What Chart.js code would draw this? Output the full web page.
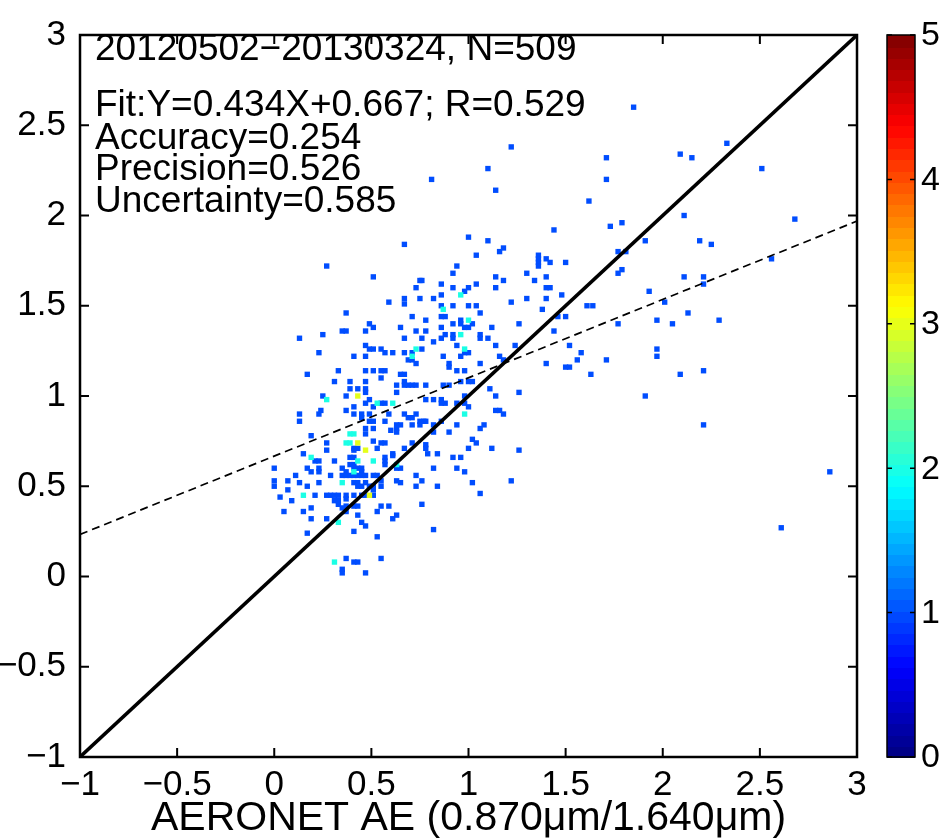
<!DOCTYPE html>
<html><head><meta charset="utf-8">
<script src="https://cdn.jsdelivr.net/npm/chart.js@4.4.1/dist/chart.umd.min.js"></script>
<style>html,body{margin:0;padding:0;background:#fff;}#wrap{width:945px;height:838px;position:relative;}</style>
</head><body><div id="wrap"><canvas id="c" width="945" height="838"></canvas></div>
<script>
// ---- data: [AERONET AE, satellite AE] per occupied bin, grouped by bin count ----
const count1Points = [
[0.27,1.72],[0.51,1.66],[0.59,1.52],[0.67,1.54],[0.67,1.51],[0.75,1.64],[0.73,1.60],[0.75,1.54],[0.37,1.46],[0.71,1.44],[0.49,1.40],[0.51,1.38],[0.65,1.38],[0.35,1.36],[0.37,1.36],[0.47,1.36],[0.25,1.34],[0.13,1.32],[0.67,1.32],[0.73,1.36],[0.47,1.28],[0.49,1.26],[0.51,1.26],[0.55,1.26],[0.57,1.24],[0.61,1.24],[0.67,1.24],[0.71,1.24],[0.69,1.20],[0.71,1.20],[0.73,1.18],[0.23,1.24],[0.41,1.22],[0.47,1.22],[0.33,1.14],[0.47,1.14],[0.51,1.14],[0.55,1.14],[0.57,1.14],[0.17,1.12],[0.55,1.10],[0.65,1.12],[0.67,1.12],[0.31,1.08],[0.39,1.08],[0.47,1.08],[0.67,1.08],[0.63,1.06],[0.67,1.06],[0.69,1.06],[0.71,1.06],[0.73,1.06],[0.39,1.04],[0.43,1.04],[0.47,1.04],[0.47,1.02],[0.63,1.02],[0.25,1.00],[0.37,1.00],[0.49,0.98],[0.47,0.96],[0.55,0.96],[0.57,0.96],[0.41,0.94],[0.51,0.94],
[0.13,0.90],[0.13,0.86],[0.23,0.90],[0.24,0.92],[0.37,0.92],[0.41,0.90],[0.45,0.90],[0.45,0.88],[0.49,0.90],[0.49,0.86],[0.51,0.86],[0.57,0.86],[0.59,0.90],[0.67,0.90],[0.69,0.88],[0.71,0.88],[0.73,0.90],[0.75,0.86],[0.77,0.86],[0.63,0.84],[0.65,0.84],[0.63,0.82],[0.63,0.80],[0.60,0.81],[0.71,0.84],[0.75,0.84],[0.47,0.82],[0.47,0.79],[0.51,0.82],[0.19,0.78],[0.27,0.74],[0.27,0.70],[0.41,0.71],[0.43,0.71],[0.41,0.70],[0.51,0.75],[0.53,0.71],[0.55,0.74],[0.57,0.74],[0.71,0.74],[0.67,0.71],[0.61,0.68],[0.15,0.68],[0.21,0.64],[0.23,0.64],[0.23,0.60],[0.23,0.58],[0.31,0.64],[0.39,0.66],[0.41,0.66],[0.57,0.66],[0.57,0.64],[0.57,0.62],[0.61,0.67],[0.63,0.60],[0.65,0.60],[0.39,0.62],[0.41,0.62],[0.35,0.60],[0.37,0.58],[0.41,0.60],[0.43,0.60],[0.45,0.60],[0.45,0.58],[0.00,0.60],[0.17,0.60],[0.19,0.58],[0.11,0.56],[0.29,0.56],[0.35,0.56],[0.37,0.56],[0.39,0.56],[0.41,0.56],[0.43,0.56],[0.45,0.56],[0.47,0.56],[0.51,0.56],[0.53,0.56],[0.55,0.53],[0.63,0.53],[0.65,0.52],[0.73,0.56],[0.00,0.53],[0.00,0.50],[0.07,0.53],[0.07,0.48],[0.13,0.52],[0.17,0.50],[0.23,0.52],[0.41,0.52],[0.43,0.52],[0.43,0.50],[0.45,0.50],[0.47,0.52],[0.49,0.50],[0.51,0.50],[0.51,0.48],[0.47,0.45],[0.51,0.45],[0.55,0.50],[0.21,0.45],[0.27,0.45],[0.29,0.45],[0.31,0.45],[0.33,0.45],[0.37,0.45],[0.37,0.43],[0.41,0.45],[0.45,0.45],[0.03,0.44],[0.09,0.42],[0.31,0.42],[0.33,0.42],[0.33,0.40],[0.37,0.39],[0.41,0.39],[0.43,0.39],[0.19,0.38],[0.55,0.39],[0.59,0.39],[0.73,0.50],[0.63,0.34],[0.61,0.32],[0.05,0.36],[0.15,0.36],[0.35,0.38],[0.37,0.36],[0.43,0.34],[0.53,0.36],[0.19,0.32],[0.27,0.32],[0.45,0.30],[0.47,0.28],[0.41,0.25],[0.17,0.24],[0.53,0.22],[0.37,0.10],[0.41,0.08],[0.43,0.08],[0.35,0.04],[0.35,0.02],[0.47,0.02],[0.55,0.10],
[1.04,1.78],[1.36,1.78],[1.36,1.76],[1.40,1.76],[1.36,1.74],[1.36,1.72],[1.42,1.74],[1.50,1.74],[0.94,1.72],[0.92,1.68],[1.30,1.68],[1.14,1.66],[1.40,1.66],[1.18,1.64],[1.34,1.64],[0.76,1.64],[0.86,1.62],[0.92,1.60],[1.00,1.60],[0.98,1.58],[1.04,1.62],[1.14,1.60],[1.40,1.60],[1.42,1.60],[0.86,1.56],[0.82,1.54],[1.30,1.54],[1.40,1.54],[1.48,1.56],[1.22,1.52],[0.86,1.50],[0.92,1.50],[1.00,1.50],[1.04,1.50],[1.06,1.46],[1.38,1.48],[0.86,1.44],[0.88,1.44],[0.78,1.42],[0.92,1.40],[0.96,1.42],[0.96,1.40],[0.98,1.38],[1.00,1.38],[1.02,1.40],[1.12,1.38],[1.26,1.40],[1.46,1.44],[1.50,1.44],[0.78,1.36],[0.86,1.38],[0.88,1.34],[0.82,1.30],[0.86,1.32],[0.92,1.34],[0.92,1.32],[1.06,1.34],[1.06,1.32],[1.10,1.32],[1.44,1.36],[0.76,1.32],[0.94,1.28],[1.14,1.28],[1.24,1.28],[1.52,1.28],[0.76,1.26],[0.87,1.22],[0.96,1.22],[0.98,1.24],[1.00,1.24],[1.16,1.22],[1.18,1.20],[1.56,1.20],[0.90,1.18],[0.90,1.16],[0.94,1.14],[0.98,1.14],[1.06,1.18],[1.40,1.18],[1.50,1.16],[1.52,1.16],[0.78,1.06],[0.87,1.06],[0.90,1.06],[0.96,1.08],[1.00,1.08],[1.02,1.08],[1.11,1.04],[1.14,1.00],[1.26,1.02],[0.78,0.98],[0.82,0.98],[0.86,0.98],[0.86,0.96],[0.88,0.96],[0.94,0.96],[0.98,1.00],[0.98,0.96],[1.00,0.94],
[1.14,0.92],[1.16,0.92],[1.18,0.90],[0.78,0.86],[0.82,0.84],[0.82,0.80],[0.86,0.86],[0.94,0.84],[0.90,0.80],[1.06,0.82],[1.08,0.84],[0.78,0.73],[0.78,0.71],[1.02,0.76],[1.04,0.74],[1.00,0.71],[1.12,0.71],[1.26,0.70],[0.79,0.68],[0.84,0.68],[0.92,0.66],[0.96,0.66],[0.82,0.60],[0.94,0.60],[0.98,0.58],[0.76,0.53],[0.84,0.50],[1.02,0.52],[1.06,0.46],[1.22,0.53],[0.76,0.40],[0.82,0.26],
[1.85,2.60],[2.33,2.40],[2.09,2.34],[2.15,2.32],[1.71,2.32],[1.71,2.20],[2.51,2.26],[1.62,2.08],[1.73,1.94],[1.79,1.96],[2.11,2.00],[2.68,1.98],[1.91,1.86],[2.19,1.86],[2.25,1.84],[1.77,1.80],[1.81,1.80],[1.77,1.68],[1.79,1.70],[2.56,1.76],[2.11,1.66],[2.21,1.66],[2.21,1.62],[1.93,1.58],
[1.61,1.50],[1.64,1.50],[2.01,1.52],[2.13,1.46],[1.97,1.42],[2.05,1.40],[2.29,1.42],[1.77,1.40],[1.58,1.24],[1.71,1.20],[1.63,1.12],[1.97,1.26],[1.97,1.22],[2.09,1.12],[2.21,1.14],[1.91,1.00],[2.21,0.84],[2.86,0.58],[2.61,0.27],
[1.22,2.38],[1.10,2.26],[0.81,2.20],[1.14,2.14],[1.44,1.92],[1.00,1.88],[1.10,1.86],[0.67,1.84],[1.18,1.82],[1.16,1.80]
];
const count2Points = [
[0.73,1.26],[0.71,1.22],[0.27,0.98],[0.53,0.96],[0.61,0.96],
[0.39,0.79],[0.41,0.79],[0.37,0.74],[0.39,0.74],[0.19,0.66],[0.43,0.64],[0.51,0.64],[0.63,0.62],[0.41,0.58],[0.35,0.52],[0.15,0.45],[0.33,0.30],[0.31,0.08],
[0.96,1.56],[0.87,1.48],[1.00,1.42],[0.96,1.34],[0.98,1.26],[0.98,0.90]
];
const count3Points = [[0.43,1.00],[0.43,0.74],[0.47,0.70],[0.49,0.45]];

const fitSlope = 0.434, fitIntercept = 0.667;
const axisMin = -1, axisMax = 3;
const axisTicks = [-1,-0.5,0,0.5,1,1.5,2,2.5,3];
const colorbarTicks = [0,1,2,3,4,5];
const colorbarMax = 5;
const annotationLines = ["20120502\u221220130324, N=509","Fit:Y=0.434X+0.667; R=0.529","Accuracy=0.254","Precision=0.526","Uncertainty=0.585"];
const xTitle = "AERONET AE (0.870\u03bcm/1.640\u03bcm)";

// ---- helpers ----
function jet(t){
  const c = v => Math.round(255*Math.max(0,Math.min(1,v)));
  return `rgb(${c(1.5-Math.abs(4*t-3))},${c(1.5-Math.abs(4*t-2))},${c(1.5-Math.abs(4*t-1))})`;
}
const FONT = "'Liberation Sans', Arial, Helvetica, sans-serif";
const fmt = v => (v<0?'\u2212':'') + Math.abs(v);
const toXY = arr => arr.map(p => ({x:p[0], y:p[1]}));

const framePlugin = {
  id:'frame',
  afterDatasetsDraw(chart){
    const {ctx, chartArea:a, scales:{x,y}} = chart;
    ctx.save();
    ctx.strokeStyle='#000'; ctx.lineWidth=2.5;
    ctx.strokeRect(a.left, a.top, a.right-a.left, a.bottom-a.top);
    ctx.lineWidth=2;
    const L=9;
    ctx.beginPath();
    axisTicks.forEach(v=>{
      const px=x.getPixelForValue(v), py=y.getPixelForValue(v);
      ctx.moveTo(px,a.bottom); ctx.lineTo(px,a.bottom-L);
      ctx.moveTo(px,a.top); ctx.lineTo(px,a.top+L);
      ctx.moveTo(a.left,py); ctx.lineTo(a.left+L,py);
      ctx.moveTo(a.right,py); ctx.lineTo(a.right-L,py);
    });
    ctx.stroke();
    // annotation text
    ctx.fillStyle='#000'; ctx.font='37px '+FONT; ctx.textAlign='left'; ctx.textBaseline='alphabetic';
    const base=[60,116,149,180,212];
    annotationLines.forEach((t,i)=>ctx.fillText(t, 95, base[i]));
    ctx.restore();
  },
  afterDraw(chart){
    const {ctx, chartArea:a} = chart;
    const left=887, w=28, top=a.top, bottom=a.bottom, h=bottom-top;
    ctx.save();
    const n=64;
    for(let i=0;i<n;i++){
      const y0 = bottom - (i+1)*h/n;
      ctx.fillStyle = jet((i+0.5)/n);
      ctx.fillRect(left, Math.floor(y0), w, Math.ceil(h/n)+1);
    }
    ctx.strokeStyle='#000'; ctx.lineWidth=1.5;
    ctx.strokeRect(left, top, w, h);
    ctx.beginPath();
    colorbarTicks.forEach(v=>{
      const py = bottom - v/colorbarMax*h;
      ctx.moveTo(left,py); ctx.lineTo(left+5,py);
      ctx.moveTo(left+w,py); ctx.lineTo(left+w-5,py);
    });
    ctx.stroke();
    ctx.fillStyle='#000'; ctx.font='34px '+FONT; ctx.textAlign='left'; ctx.textBaseline='middle';
    colorbarTicks.forEach(v=>{
      const py = bottom - v/colorbarMax*h;
      ctx.fillText(String(v), left+w+6, py+1);
    });
    ctx.restore();
  }
};

const scatterBase = {type:'scatter', pointStyle:'rect', pointRadius:3.8, pointHoverRadius:3.8, pointBorderWidth:0, order:2};
new Chart(document.getElementById('c'), {
  type:'scatter',
  data:{datasets:[
    {type:'line', label:'1:1', data:[{x:axisMin,y:axisMin},{x:axisMax,y:axisMax}], borderColor:'#000', borderWidth:3.5, pointRadius:0, order:0},
    {type:'line', label:'fit', data:[{x:axisMin,y:fitSlope*axisMin+fitIntercept},{x:axisMax,y:fitSlope*axisMax+fitIntercept}], borderColor:'#000', borderWidth:1.7, borderDash:[8,5], pointRadius:0, order:0},
    Object.assign({label:'3', data:toXY(count3Points), backgroundColor:jet(3/colorbarMax), pointBackgroundColor:jet(3/colorbarMax)}, scatterBase, {order:1}),
    Object.assign({label:'2', data:toXY(count2Points), backgroundColor:jet(2/colorbarMax), pointBackgroundColor:jet(2/colorbarMax)}, scatterBase, {order:1.5}),
    Object.assign({label:'1', data:toXY(count1Points), backgroundColor:jet(1/colorbarMax), pointBackgroundColor:jet(1/colorbarMax)}, scatterBase)
  ]},
  options:{
    responsive:false, animation:false, devicePixelRatio:1,
    layout:{padding:{left:0, top:18, right:88, bottom:0}},
    plugins:{legend:{display:false}, tooltip:{enabled:false}},
    scales:{
      x:{type:'linear', min:axisMin, max:axisMax,
         afterBuildTicks(s){ s.ticks = axisTicks.map(v=>({value:v})); },
         afterFit(s){ s.height = 81; },
         grid:{display:false, drawTicks:false}, border:{display:false},
         ticks:{autoSkip:false, maxRotation:0, padding:7, color:'#000', font:{family:FONT, size:35}, callback:v=>fmt(v)},
         title:{display:true, text:xTitle, color:'#000', font:{family:FONT, size:41, lineHeight:1.0}, padding:{top:0,bottom:-1}}
      },
      y:{type:'linear', min:axisMin, max:axisMax,
         afterBuildTicks(s){ s.ticks = axisTicks.map(v=>({value:v})); },
         afterFit(s){ s.width = 80; },
         grid:{display:false, drawTicks:false}, border:{display:false},
         ticks:{autoSkip:false, padding:14, color:'#000', font:{family:FONT, size:35}, callback:v=>fmt(v)}
      }
    }
  },
  plugins:[framePlugin]
});
</script></body></html>
